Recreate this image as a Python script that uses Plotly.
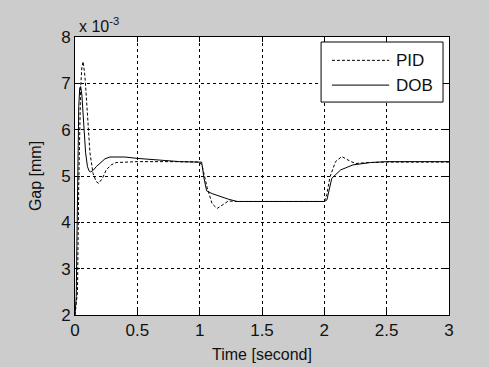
import plotly.graph_objects as go

# Time [s] and gap [x1e-3 mm]
t_pid = [0, 0.01, 0.02, 0.03, 0.045, 0.055, 0.065, 0.08, 0.1, 0.12, 0.145, 0.17, 0.19, 0.22, 0.25, 0.29, 0.33, 0.5, 0.8, 1.0,
         1.02, 1.06, 1.1, 1.14, 1.18, 1.23, 1.3, 1.6, 2.0,
         2.02, 2.045, 2.09, 2.14, 2.2, 2.25, 2.35, 2.5, 3.0]
v_pid = [2.0, 2.3, 2.5, 4.8, 6.9, 7.35, 7.47, 7.15, 6.2, 5.5, 5.05, 4.88, 4.84, 4.95, 5.13, 5.24, 5.29, 5.31, 5.31, 5.3,
         5.22, 4.75, 4.4, 4.3, 4.37, 4.46, 4.45, 4.45, 4.45,
         4.6, 4.98, 5.31, 5.42, 5.33, 5.27, 5.29, 5.3, 5.3]

t_dob = [0, 0.005, 0.01, 0.015, 0.02, 0.03, 0.038, 0.045, 0.055, 0.07, 0.085, 0.1, 0.115, 0.126, 0.145, 0.17, 0.2, 0.24, 0.28, 0.4, 0.5, 0.84, 1.0,
         1.016, 1.035, 1.056, 1.1, 1.17, 1.23, 1.3, 1.6, 2.0,
         2.02, 2.06, 2.13, 2.23, 2.37, 2.5, 3.0]
v_dob = [2.0, 2.25, 2.4, 3.5, 4.5, 6.5, 6.9, 6.93, 6.75, 6.1, 5.5, 5.2, 5.1, 5.09, 5.12, 5.2, 5.28, 5.37, 5.41, 5.41, 5.38, 5.31, 5.3,
         5.3, 4.95, 4.68, 4.62, 4.55, 4.5, 4.45, 4.45, 4.45,
         4.48, 4.95, 5.13, 5.24, 5.29, 5.31, 5.31]

series_names = ["PID", "DOB"]
series_dash = ["3px,2px", "solid"]

x_ticks = [0, 0.5, 1, 1.5, 2, 2.5, 3]
x_tick_text = ["0", "0.5", "1", "1.5", "2", "2.5", "3"]
y_ticks = [2, 3, 4, 5, 6, 7, 8]
y_tick_text = ["2", "3", "4", "5", "6", "7", "8"]

FONT = "Liberation Sans, Arial, sans-serif"
TXT = "#111111"

fig = go.Figure()
fig.add_trace(go.Scatter(x=t_pid, y=v_pid, mode="lines", name=series_names[0], showlegend=False,
                         line=dict(color="black", width=1, dash=series_dash[0])))
fig.add_trace(go.Scatter(x=t_dob, y=v_dob, mode="lines", name=series_names[1], showlegend=False,
                         line=dict(color="black", width=1, dash=series_dash[1])))

axis_common = dict(showline=True, linecolor="black", linewidth=1, mirror="allticks",
                   ticks="inside", ticklen=5, tickcolor="black", automargin=False,
                   showgrid=True, gridcolor="black", gridwidth=1, griddash="3px,3px",
                   zeroline=False, tickfont=dict(family=FONT, size=17, color=TXT))

fig.update_xaxes(range=[0, 3], tickvals=x_ticks, ticktext=x_tick_text,
                 title=dict(text="Time [second]", font=dict(family=FONT, size=16, color=TXT), standoff=9),
                 **axis_common)
fig.update_yaxes(range=[2, 8], tickvals=y_ticks, ticktext=y_tick_text,
                 title=dict(text="Gap [mm]", font=dict(family=FONT, size=16, color=TXT), standoff=15),
                 **axis_common)

fig.add_annotation(text="x 10<sup>-3</sup>", xref="paper", yref="paper", x=0.0, y=1.0,
                   xanchor="left", yanchor="bottom", showarrow=False, xshift=2,
                   font=dict(family=FONT, size=16, color=TXT))

# Custom legend box (MATLAB style, long line samples)
fig.add_shape(type="rect", xref="paper", yref="paper", x0=0.658, x1=0.984, y0=0.766, y1=0.982,
              line=dict(color="black", width=1), fillcolor="white", layer="above")
legend_y = [0.916, 0.827]
for name, dash, ly in zip(series_names, series_dash, legend_y):
    fig.add_shape(type="line", xref="paper", yref="paper", x0=0.687, x1=0.840, y0=ly, y1=ly,
                  line=dict(color="black", width=1, dash=dash), layer="above")
    fig.add_annotation(text=name, xref="paper", yref="paper", x=0.852, y=ly,
                       xanchor="left", yanchor="middle", showarrow=False,
                       font=dict(family=FONT, size=17, color=TXT))

fig.update_layout(
    width=489, height=367,
    margin=dict(l=75, r=40, t=37, b=52),
    paper_bgcolor="#cccccc", plot_bgcolor="white",
    showlegend=False,
)

fig.write_html("out.html", config={"displayModeBar": False},
               post_script="document.body.style.margin='0';document.body.style.background='#cccccc';")
